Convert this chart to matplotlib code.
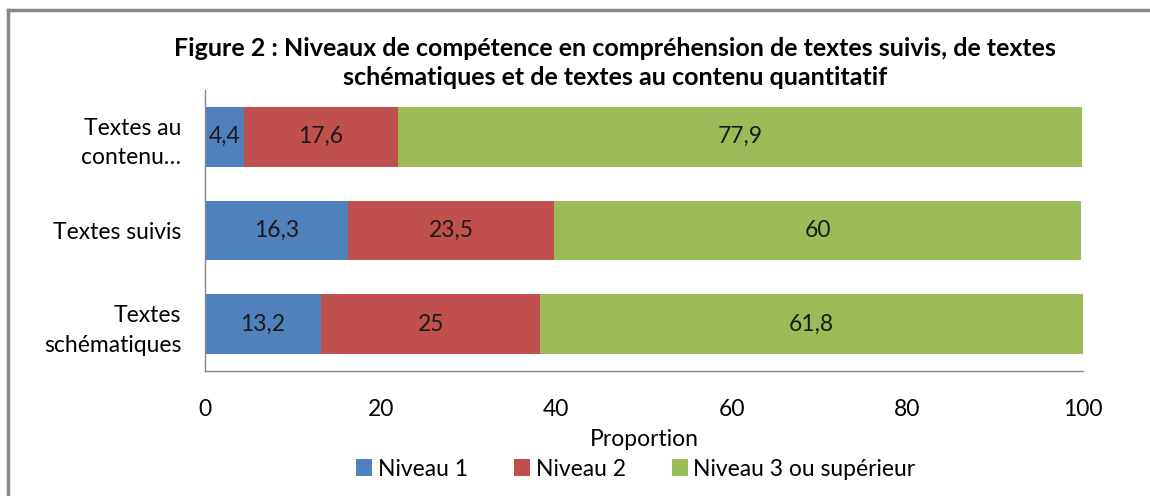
import matplotlib
matplotlib.use("Agg")
import matplotlib.pyplot as plt
from matplotlib.lines import Line2D
import numpy as np

plt.rcParams['font.family'] = ['Lato', 'DejaVu Sans']

categories = ['Textes\nschématiques', 'Textes suivis', 'Textes au\ncontenu…']
niveau1 = [13.2, 16.3, 4.4]
niveau2 = [25, 23.5, 17.6]
niveau3 = [61.8, 60, 77.9]
series = ['Niveau 1', 'Niveau 2', 'Niveau 3 ou supérieur']
colors = ['#4F81BD', '#C0504D', '#9BBB59']
xticks = [0, 20, 40, 60, 80, 100]

fig = plt.figure(figsize=(11.5, 4.96), dpi=100)
ax = fig.add_axes([205 / 1150, 1 - 371 / 496, (1083 - 205) / 1150, (371 - 90) / 496])

y = np.arange(len(categories))
left = np.zeros(len(categories))
for vals, name, col in zip([niveau1, niveau2, niveau3], series, colors):
    vals = np.array(vals, dtype=float)
    ax.barh(y, vals, left=left, height=0.64, color=col, label=name)
    for yi, l, v in zip(y, left, vals):
        txt = ('%g' % v).replace('.', ',')
        ax.text(l + v / 2, yi, txt, ha='center', va='center', fontsize=16.5, color='#1a1a1a')
    left += vals

ax.set_xlim(0, 100)
ax.set_ylim(-0.5, 2.5)
ax.set_xticks(xticks)
ax.set_yticks(y)
ax.set_yticklabels(categories, fontsize=16.5, linespacing=1.5)
ax.tick_params(axis='x', labelsize=16.5, length=0, pad=20)
ax.tick_params(axis='y', length=0, pad=17)
for s in ['top', 'right']:
    ax.spines[s].set_visible(False)
for s in ['left', 'bottom']:
    ax.spines[s].set_color('#878787')
    ax.spines[s].set_linewidth(1)
ax.set_xlabel('Proportion', fontsize=16.5, labelpad=7)

fig.text(615 / 1150, 1 - 63 / 496,
         'Figure 2 : Niveaux de compétence en compréhension de textes suivis, de textes\n'
         'schématiques et de textes au contenu quantitatif',
         ha='center', va='center', fontsize=18, fontweight='bold', linespacing=1.3)

fig.legend(loc='center', bbox_to_anchor=(636 / 1150, 1 - 469 / 496), ncol=3, frameon=False,
           fontsize=16.5, handlelength=0.7, handleheight=0.7, handletextpad=0.25,
           columnspacing=2.0)

# border of the chart area (cropped on right and bottom)
fig.add_artist(Line2D([8 / 1150, 1], [1 - 10 / 496, 1 - 10 / 496], color='#888888', lw=2.5,
                      transform=fig.transFigure))
fig.add_artist(Line2D([8 / 1150, 8 / 1150], [0, 1 - 10 / 496], color='#888888', lw=2.5,
                      transform=fig.transFigure))

fig.savefig('out.png', dpi=100)
